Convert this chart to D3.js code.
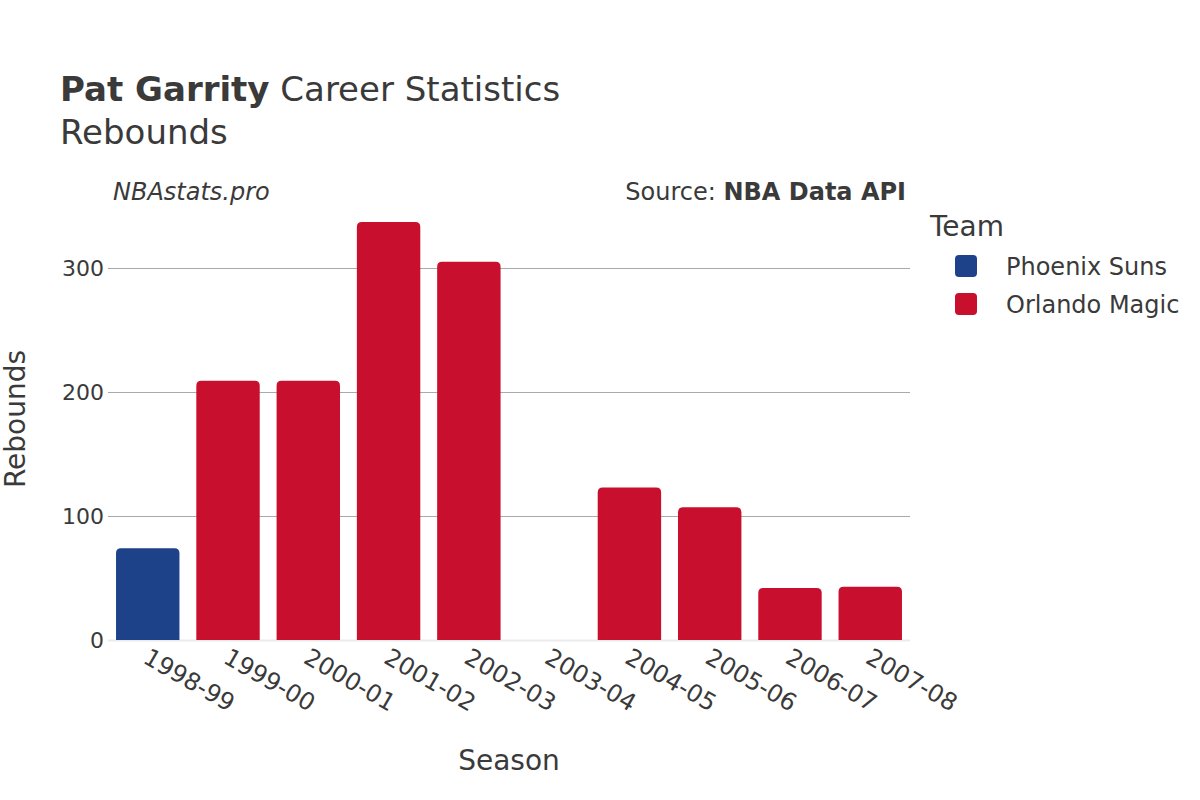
<!DOCTYPE html>
<html><head><meta charset="utf-8">
<script src="https://cdn.jsdelivr.net/npm/d3@7"></script>
<style>body{margin:0;background:#fff}svg{font-family:"DejaVu Sans",sans-serif}</style>
</head><body>
<svg id="c" width="1200" height="800"></svg>
<script>
const seasons = ["1998-99","1999-00","2000-01","2001-02","2002-03","2003-04","2004-05","2005-06","2006-07","2007-08"];
const rebounds = [74,209,209,337,305,0,123,107,42,43];
const teams = ["Phoenix Suns","Orlando Magic","Orlando Magic","Orlando Magic","Orlando Magic","Orlando Magic","Orlando Magic","Orlando Magic","Orlando Magic","Orlando Magic"];
const legendTeams = ["Phoenix Suns","Orlando Magic"];
const teamColors = ["#1d428a","#c8102e"];
const yTicks = [0,100,200,300];

const svg = d3.select("#c");
const m = {l:108, r:910, t:200, b:640};
const x = d3.scaleBand().domain(seasons).range([m.l, m.r]).paddingInner(0.21).paddingOuter(0.1);
const y = d3.scaleLinear().domain([0, 100]).range([m.b, m.b-124]);
const color = d3.scaleOrdinal().domain(legendTeams).range(teamColors);
const txt = "#3a3a3a";

// grid
const ya = svg.append("g").attr("transform",`translate(${m.l},0)`)
  .call(d3.axisLeft(y).tickValues(yTicks).tickSize(-(m.r-m.l)).tickPadding(4));
ya.select(".domain").remove();
ya.selectAll(".tick line").attr("stroke", d=>d===0?"#ebebeb":"#aaaaaa").attr("stroke-width", d=>d===0?2:1.2);
ya.selectAll(".tick text").attr("font-size",22).attr("fill",txt).attr("font-family","DejaVu Sans");

// bars
function barPath(x0,w,y0,y1,r){
  const h=y1-y0; r=Math.min(r,h,w/2);
  return `M${x0},${y1}V${y0+r}Q${x0},${y0} ${x0+r},${y0}H${x0+w-r}Q${x0+w},${y0} ${x0+w},${y0+r}V${y1}Z`;
}
svg.append("g").selectAll("path").data(seasons).join("path")
  .attr("d",(s,i)=>barPath(x(s), x.bandwidth(), y(rebounds[i]), y(0), 5))
  .attr("fill",(s,i)=>color(teams[i]));

// x axis labels
const xa = svg.append("g").attr("transform",`translate(0,${m.b})`)
  .call(d3.axisBottom(x).tickSize(0).tickPadding(0));
xa.select(".domain").remove();
xa.selectAll(".tick text").attr("font-size",24).attr("fill",txt).attr("font-family","DejaVu Sans")
  .attr("text-anchor","start").attr("dy",null).attr("y",0)
  .attr("transform","translate(-6,22) rotate(30)");

// titles
const t = svg.append("text").attr("x",60).attr("y",101).attr("font-size",34).attr("fill",txt);
t.append("tspan").attr("font-weight","bold").text("Pat Garrity");
t.append("tspan").text(" Career Statistics");
svg.append("text").attr("x",60).attr("y",144).attr("font-size",34).attr("fill",txt).text("Rebounds");
svg.append("text").attr("x",113).attr("y",200).attr("font-size",24).attr("font-style","italic").attr("fill",txt).text("NBAstats.pro");
const src = svg.append("text").attr("x",906).attr("y",200).attr("font-size",24).attr("text-anchor","end").attr("fill",txt);
src.append("tspan").text("Source: ");
src.append("tspan").attr("font-weight","bold").text("NBA Data API");

svg.append("text").attr("x",509).attr("y",770).attr("font-size",28).attr("text-anchor","middle").attr("fill",txt).text("Season");
svg.append("text").attr("transform","translate(25,419) rotate(-90)").attr("font-size",28).attr("text-anchor","middle").attr("fill",txt).text("Rebounds");

// legend
svg.append("text").attr("x",930).attr("y",236).attr("font-size",28).attr("fill",txt).text("Team");
const lg = svg.append("g").selectAll("g").data(legendTeams).join("g")
  .attr("transform",(d,i)=>`translate(955,${255+i*38})`);
lg.append("rect").attr("width",22).attr("height",22).attr("rx",4).attr("fill",d=>color(d));
lg.append("text").attr("x",51).attr("y",20).attr("font-size",24).attr("fill",txt).text(d=>d);
</script>
</body></html>
